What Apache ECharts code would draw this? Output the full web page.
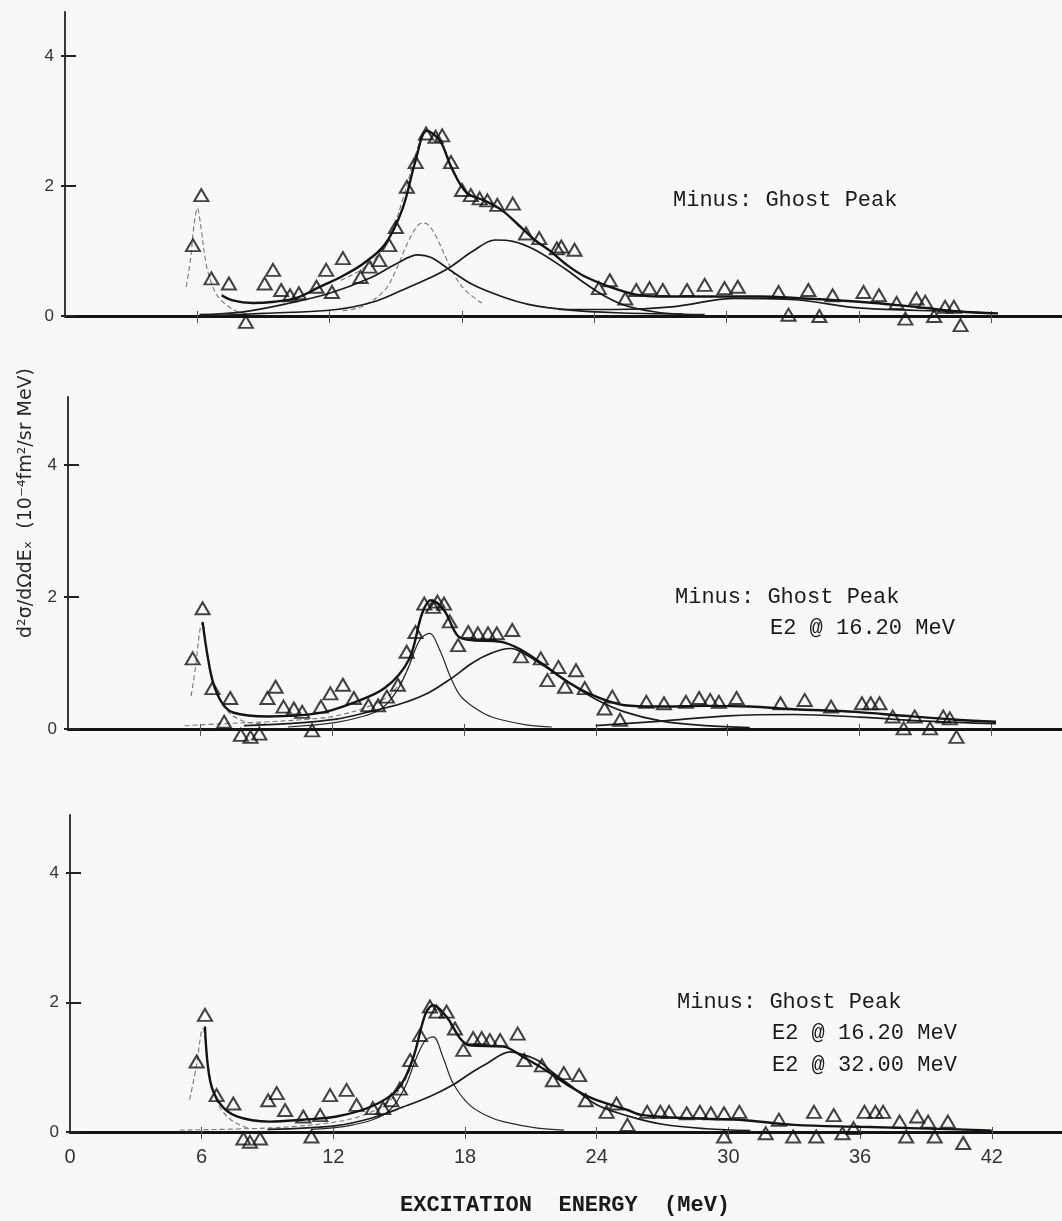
<!DOCTYPE html>
<html>
<head>
<meta charset="utf-8">
<script src="https://cdn.jsdelivr.net/npm/echarts@6/dist/echarts.min.js"></script>
<style>
  html, body { margin: 0; padding: 0; background: #f8f8f6; }
  #main { width: 1062px; height: 1221px; }
</style>
</head>
<body>
<div id="main"></div>
<script>
// tick labels
const xTicks = [0, 6, 12, 18, 24, 30, 36, 42];
const yTicks = [0, 2, 4];

// panel 1 : Minus: Ghost Peak
const pts1 = [[5.8,1.09],[6.18,1.86],[6.64,0.58],[7.43,0.5],[8.2,-0.09],[9.05,0.5],[9.43,0.71],[9.8,0.4],[10.2,0.32],[10.6,0.35],[11.4,0.45],[11.84,0.71],[12.1,0.37],[12.6,0.89],[13.4,0.6],[13.8,0.76],[14.25,0.86],[14.7,1.09],[15.0,1.37],[15.5,1.99],[15.9,2.37],[16.37,2.81],[16.8,2.76],[17.1,2.78],[17.5,2.37],[18.0,1.94],[18.4,1.86],[18.8,1.81],[19.15,1.78],[19.6,1.71],[20.3,1.73],[20.9,1.27],[21.5,1.2],[22.3,1.04],[22.5,1.07],[23.1,1.02],[24.2,0.43],[24.7,0.55],[25.4,0.27],[25.9,0.4],[26.5,0.43],[27.1,0.4],[28.2,0.4],[29.0,0.48],[29.9,0.43],[30.5,0.45],[32.35,0.37],[32.8,0.02],[33.7,0.4],[34.2,0.0],[34.8,0.32],[36.2,0.37],[36.9,0.32],[37.7,0.2],[38.1,-0.04],[38.6,0.27],[39.0,0.22],[39.4,0.0],[39.9,0.14],[40.3,0.14],[40.6,-0.14]];
const fit1 = [[7.1,0.32],[7.6,0.24],[8.5,0.2],[9.5,0.22],[10.5,0.28],[11.5,0.44],[12.5,0.6],[13.5,0.8],[14.5,1.1],[15.3,1.65],[15.9,2.4],[16.4,2.85],[17.0,2.7],[17.5,2.3],[18.2,1.9],[19.0,1.78],[19.8,1.63],[20.5,1.42],[21.3,1.17],[22.0,1.0],[22.7,0.8],[23.5,0.62],[24.7,0.45],[25.9,0.33],[27,0.3],[29,0.3],[31.4,0.3],[33.5,0.27],[36,0.22],[38,0.16],[40.5,0.07],[42.3,0.04]];
const ghost1 = [[5.5,0.45],[5.7,0.9],[5.85,1.4],[6.0,1.66],[6.15,1.4],[6.4,0.8],[6.7,0.45],[7.0,0.27],[7.4,0.15],[7.8,0.07],[8.3,0.03]];
const sub1 = [[12.5,0.55],[13.8,0.8],[14.7,1.22],[15.3,1.78],[16.0,2.6],[16.4,2.87],[16.9,2.72],[17.3,2.5],[17.7,2.14],[18.2,1.92]];
const e2a1 = [[12.6,0.08],[13.5,0.15],[14.5,0.4],[15.0,0.7],[15.5,1.1],[16.0,1.4],[16.3,1.43],[16.7,1.3],[17.2,0.95],[17.7,0.6],[18.2,0.38],[18.9,0.2]];
const mid1 = [[6.1,0.02],[8,0.06],[10.2,0.2],[12,0.35],[13.8,0.58],[15,0.8],[16,0.94],[16.6,0.9],[17.4,0.72],[18.5,0.48],[19.8,0.3],[21,0.18],[22.9,0.09],[25,0.05],[28,0.03]];
const gdr1 = [[6.2,0.0],[9,0.04],[12.3,0.1],[14,0.22],[15.3,0.4],[16.5,0.58],[17.4,0.74],[18.5,1.0],[19.5,1.17],[20.3,1.15],[21.3,1.02],[22.7,0.72],[23.5,0.52],[24.5,0.3],[25.5,0.15],[27,0.05],[29,0.02]];
const hump1 = [[22.4,0.1],[25,0.1],[27.5,0.14],[30.4,0.27],[33.1,0.25],[36.1,0.12],[40.3,0.07],[42,0.04]];

// panel 2 : Minus: Ghost Peak, E2 @ 16.20 MeV
const pts2 = [[5.67,1.07],[6.12,1.83],[6.57,0.62],[7.1,0.11],[7.38,0.47],[7.86,-0.09],[8.3,-0.12],[8.7,-0.07],[9.07,0.47],[9.44,0.64],[9.8,0.34],[10.27,0.31],[10.65,0.26],[11.1,-0.02],[11.5,0.34],[11.93,0.54],[12.5,0.67],[13.0,0.47],[13.66,0.36],[14.1,0.36],[14.5,0.49],[15.0,0.67],[15.4,1.17],[15.8,1.47],[16.2,1.9],[16.6,1.85],[16.8,1.93],[17.1,1.9],[17.36,1.63],[17.74,1.27],[18.2,1.47],[18.64,1.45],[19.1,1.45],[19.5,1.45],[20.2,1.5],[20.6,1.1],[21.5,1.07],[21.8,0.74],[22.3,0.94],[22.6,0.64],[23.1,0.89],[23.5,0.62],[24.4,0.31],[24.75,0.49],[25.1,0.14],[26.3,0.41],[27.1,0.39],[28.1,0.41],[28.7,0.47],[29.2,0.44],[29.6,0.41],[30.4,0.47],[32.4,0.39],[33.5,0.44],[34.7,0.34],[36.1,0.39],[36.5,0.39],[36.9,0.39],[37.5,0.19],[38.0,0.01],[38.5,0.19],[39.2,0.01],[39.8,0.19],[40.1,0.16],[40.4,-0.12]];
const fit2 = [[6.12,1.62],[6.35,1.1],[6.6,0.7],[7.0,0.4],[7.5,0.25],[9.1,0.19],[11.4,0.24],[12.9,0.39],[14.4,0.62],[15.5,1.05],[16.1,1.75],[16.5,1.95],[17.1,1.8],[17.7,1.42],[18.2,1.35],[19.7,1.32],[20.6,1.2],[21.6,0.98],[22.7,0.72],[23.8,0.52],[25.3,0.36],[26.8,0.34],[29,0.35],[31,0.34],[33,0.3],[35.8,0.26],[38,0.2],[40.4,0.14],[42.2,0.11]];
const ghost2 = [[5.6,0.5],[5.8,0.95],[6.0,1.5],[6.12,1.62],[6.3,1.2],[6.6,0.72],[7.0,0.38],[7.5,0.2],[8.2,0.1],[9,0.08]];
const sub2 = [[5.3,0.05],[7,0.08],[9.1,0.11],[11,0.15],[12.2,0.2],[13.5,0.32],[14.4,0.46],[15.0,0.65],[15.5,0.95],[16.0,1.6],[16.4,1.9],[16.9,1.88],[17.4,1.6]];
const e2a2 = [[10,0.03],[12.2,0.1],[13.5,0.2],[14.3,0.32],[15.0,0.6],[15.5,0.95],[16.0,1.35],[16.45,1.45],[16.9,1.2],[17.4,0.78],[17.8,0.52],[18.2,0.39],[19,0.22],[19.7,0.14],[20.9,0.06],[22,0.03]];
const gdr2 = [[8,0.05],[10,0.08],[12.2,0.15],[13.8,0.27],[15.2,0.39],[16.4,0.55],[17.4,0.76],[18.3,0.98],[18.9,1.1],[19.7,1.2],[20.15,1.22],[20.7,1.15],[21.2,1.05],[22,0.88],[22.7,0.72],[24,0.45],[25.3,0.26],[27,0.12],[29,0.05],[31,0.02]];
const hump2 = [[24,0.05],[27,0.12],[30,0.2],[33,0.22],[36,0.18],[39,0.12],[42.2,0.08]];

// panel 3 : Minus: Ghost Peak, E2 @ 16.20 MeV, E2 @ 32.00 MeV
const pts3 = [[5.77,1.09],[6.15,1.81],[6.68,0.57],[7.44,0.44],[7.9,-0.1],[8.2,-0.15],[8.66,-0.1],[9.03,0.49],[9.42,0.6],[9.8,0.34],[10.63,0.24],[11.0,-0.07],[11.4,0.26],[11.85,0.57],[12.6,0.65],[13.06,0.42],[13.8,0.37],[14.27,0.37],[14.65,0.49],[15.03,0.67],[15.5,1.11],[15.95,1.5],[16.4,1.94],[16.7,1.86],[17.16,1.86],[17.54,1.6],[17.92,1.27],[18.37,1.45],[18.76,1.45],[19.13,1.42],[19.6,1.42],[20.4,1.52],[20.7,1.11],[21.5,1.03],[22.0,0.8],[22.5,0.91],[23.2,0.88],[23.5,0.49],[24.45,0.31],[24.9,0.44],[25.4,0.11],[26.3,0.31],[26.9,0.31],[27.3,0.31],[28.1,0.29],[28.7,0.31],[29.2,0.29],[29.8,0.29],[29.8,-0.07],[30.5,0.31],[31.7,-0.02],[32.3,0.19],[32.95,-0.07],[33.9,0.31],[34.0,-0.07],[34.8,0.26],[35.2,-0.02],[35.7,0.06],[36.2,0.31],[36.7,0.31],[37.05,0.31],[37.8,0.16],[38.1,-0.07],[38.6,0.24],[39.1,0.16],[39.4,-0.07],[40.0,0.16],[40.7,-0.17]];
const fit3 = [[6.15,1.63],[6.38,0.8],[6.83,0.44],[7.6,0.24],[9.1,0.16],[10.6,0.19],[12.15,0.24],[13.7,0.39],[14.9,0.65],[15.6,1.11],[16.2,1.83],[16.55,1.96],[17.16,1.78],[17.77,1.45],[18.2,1.34],[19.74,1.32],[20.65,1.16],[21.7,0.95],[22.8,0.7],[23.8,0.52],[25.4,0.34],[26.1,0.26],[28.4,0.21],[30.5,0.19],[33,0.11],[36,0.08],[40.5,0.04],[42,0.02]];
const ghost3 = [[5.45,0.5],[5.75,1.0],[6.05,1.6],[6.3,1.0],[6.6,0.55],[7.0,0.3],[7.5,0.15],[8.2,0.05]];
const sub3 = [[5,0.03],[8,0.05],[10,0.08],[12,0.15],[13.3,0.25],[14.4,0.44],[15.0,0.65],[15.5,0.98],[16.0,1.6],[16.4,1.9],[16.9,1.88],[17.4,1.6]];
const e2a3 = [[11,0.04],[12.9,0.11],[14.4,0.29],[15.2,0.65],[15.8,1.16],[16.2,1.42],[16.55,1.47],[17.0,1.15],[17.46,0.75],[18.2,0.42],[19,0.25],[19.74,0.16],[21.3,0.06],[22.5,0.03]];
const gdr3 = [[9,0.04],[12.15,0.1],[13.8,0.22],[15.2,0.39],[16.4,0.55],[17.46,0.73],[18.3,0.92],[19,1.06],[20.05,1.24],[20.6,1.2],[21.3,1.11],[22.0,0.92],[22.8,0.72],[24,0.42],[25.4,0.25],[27,0.12],[29,0.05],[31,0.02]];

const ink = '#141414';
const mono = '"Liberation Mono", "DejaVu Sans Mono", monospace';

const grids = [
    { left: 65, top: 12, width: 997, height: 304 },
    { left: 68, top: 397, width: 994, height: 332 },
    { left: 70, top: 815, width: 992, height: 317 }
];
const yMax = [4.68, 5.03, 4.9];

const xAxes = [];
const yAxes = [];
grids.forEach((g, i) => {
    // main axes
    xAxes.push({
        type: 'value', gridIndex: i, min: 0, max: 45.2, position: 'bottom',
        axisLine: { onZero: false, lineStyle: { color: ink, width: 2.8 } },
        axisTick: { customValues: xTicks.slice(1), length: 7, lineStyle: { color: '#555', width: 1 } },
        axisLabel: {
            show: i === 2, customValues: xTicks, margin: 15,
            fontFamily: '"Liberation Sans", Arial, sans-serif', fontSize: 20, color: '#333'
        },
        splitLine: { show: false }
    });
    // second axis only for the ticks above the baseline
    xAxes.push({
        type: 'value', gridIndex: i, min: 0, max: 45.2, position: 'bottom',
        axisLine: { show: false },
        axisTick: { inside: true, customValues: xTicks.slice(1), length: 5, lineStyle: { color: '#555', width: 1 } },
        axisLabel: { show: false },
        splitLine: { show: false }
    });
    yAxes.push({
        type: 'value', gridIndex: i, min: 0, max: yMax[i], position: 'left',
        axisLine: { show: true, onZero: false, lineStyle: { color: '#222', width: 1.8 } },
        axisTick: { show: true, customValues: yTicks, length: 4, lineStyle: { color: '#222', width: 2 } },
        axisLabel: {
            customValues: yTicks, margin: 11,
            fontFamily: '"Liberation Sans", Arial, sans-serif', fontSize: 17, color: '#333'
        },
        splitLine: { show: false }
    });
    yAxes.push({
        type: 'value', gridIndex: i, min: 0, max: yMax[i], position: 'left',
        axisLine: { show: false },
        axisTick: { show: true, inside: true, customValues: yTicks, length: 11, lineStyle: { color: '#222', width: 2 } },
        axisLabel: { show: false },
        splitLine: { show: false }
    });
});

function curve(data, i, kind) {
    const styles = {
        thick: { color: ink, width: 2.4, type: 'solid' },
        solid: { color: '#1c1c1c', width: 1.7, type: 'solid' },
        thin: { color: '#2a2a2a', width: 1.2, type: 'solid' },
        dash: { color: '#777', width: 1.1, type: [5, 3] }
    };
    return {
        type: 'line', xAxisIndex: i * 2, yAxisIndex: i * 2, data: data,
        showSymbol: false, smooth: 0.35, clip: false, silent: true,
        lineStyle: styles[kind], z: 3
    };
}
function points(data, i) {
    return {
        type: 'scatter', xAxisIndex: i * 2, yAxisIndex: i * 2, data: data,
        symbol: 'triangle', symbolSize: [14, 12], clip: false, silent: true, z: 5,
        itemStyle: { color: 'rgba(255,255,255,0)', borderColor: ink, borderWidth: 2 }
    };
}

const series = [
    curve(ghost1, 0, 'dash'), curve(sub1, 0, 'dash'), curve(e2a1, 0, 'dash'),
    curve(mid1, 0, 'solid'), curve(gdr1, 0, 'solid'), curve(hump1, 0, 'solid'),
    curve(fit1, 0, 'thick'), points(pts1, 0),

    curve(ghost2, 1, 'dash'), curve(sub2, 1, 'dash'), curve(e2a2, 1, 'thin'),
    curve(gdr2, 1, 'solid'), curve(hump2, 1, 'solid'),
    curve(fit2, 1, 'thick'), points(pts2, 1),

    curve(ghost3, 2, 'dash'), curve(sub3, 2, 'dash'), curve(e2a3, 2, 'thin'),
    curve(gdr3, 2, 'solid'),
    curve(fit3, 2, 'thick'), points(pts3, 2)
];

function note(text, x, y, bold) {
    return {
        type: 'text', left: x, top: y - 11,
        style: { text: text, font: (bold ? 'bold ' : '') + '22px ' + mono, fill: '#1a1a1a' }
    };
}

const myChart = echarts.init(document.getElementById('main'));
myChart.setOption({
    backgroundColor: '#f8f8f6',
    animation: false,
    grid: grids,
    xAxis: xAxes,
    yAxis: yAxes,
    series: series,
    graphic: [
        note('Minus: Ghost Peak', 673, 200),
        note('Minus: Ghost Peak', 675, 597),
        note('E2 @ 16.20 MeV', 770, 628),
        note('Minus: Ghost Peak', 677, 1002),
        note('E2 @ 16.20 MeV', 772, 1033),
        note('E2 @ 32.00 MeV', 772, 1065),
        note('EXCITATION  ENERGY  (MeV)', 400, 1205, true),
        {
            type: 'text', x: 26, y: 503, rotation: Math.PI / 2,
            style: {
                text: 'd\u00B2\u03C3/d\u03A9dE\u2093  (10\u207B\u2074fm\u00B2/sr MeV)',
                font: '19px "DejaVu Sans", sans-serif', fill: '#2a2a2a',
                align: 'center', verticalAlign: 'middle'
            }
        }
    ]
});
</script>
</body>
</html>
